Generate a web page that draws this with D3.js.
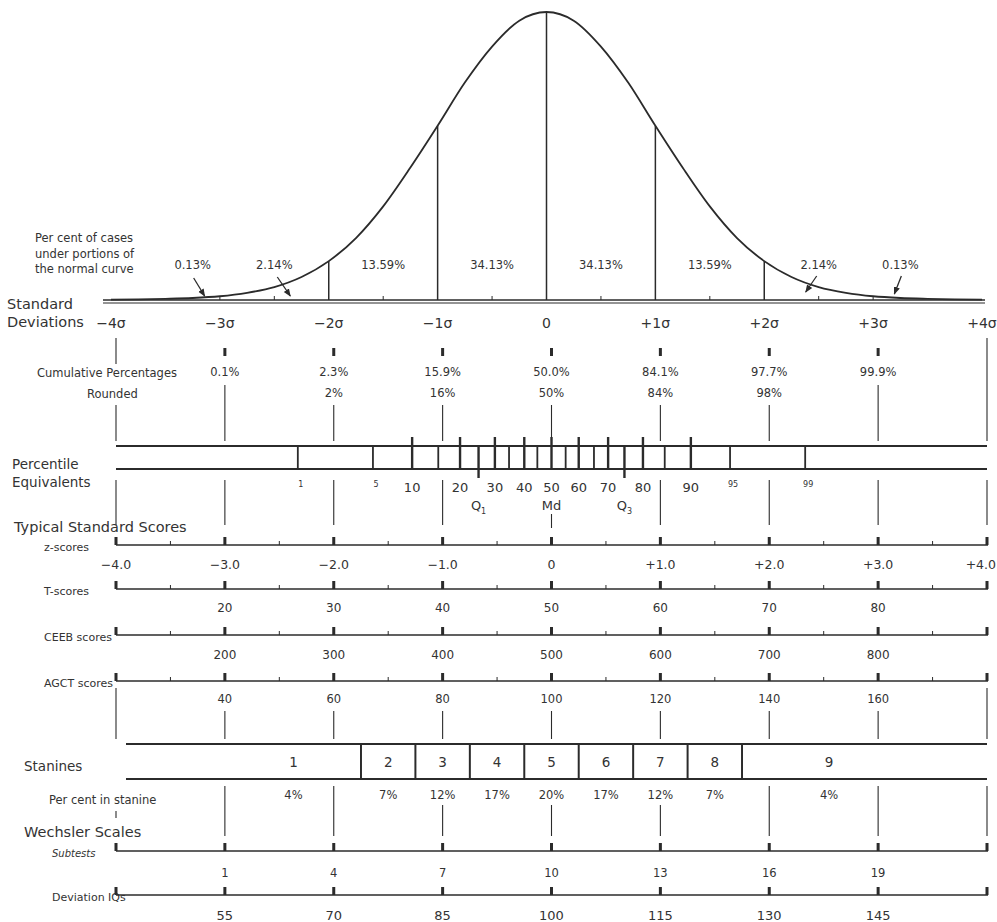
<!DOCTYPE html>
<html>
<head>
<meta charset="utf-8">
<script src="https://cdn.jsdelivr.net/npm/d3@7"></script>
<style>
  body { margin: 0; background: #fff; }
  svg text { font-family: "DejaVu Sans", sans-serif; fill: #333; }
</style>
</head>
<body>
<svg id="chart" width="997" height="922"></svg>
<script>
// ---- values ----
const sigmaTicks = [-4, -3, -2, -1, 0, 1, 2, 3, 4];
const sigmaLabels = ["−4σ", "−3σ", "−2σ", "−1σ", "0", "+1σ", "+2σ", "+3σ", "+4σ"];

// curve height as a share of the peak, every quarter sigma from -4 to +4
const curveZ = [-4, -3.75, -3.5, -3.25, -3, -2.75, -2.5, -2.25, -2, -1.75, -1.5, -1.25, -1, -0.75, -0.5, -0.25,
  0, 0.25, 0.5, 0.75, 1, 1.25, 1.5, 1.75, 2, 2.25, 2.5, 2.75, 3, 3.25, 3.5, 3.75, 4];
const curveHeight = [0.001, 0.002, 0.004, 0.007, 0.013, 0.025, 0.045, 0.08, 0.135, 0.215, 0.325, 0.46, 0.605, 0.755, 0.88, 0.97,
  1, 0.97, 0.88, 0.755, 0.605, 0.46, 0.325, 0.215, 0.135, 0.08, 0.045, 0.025, 0.013, 0.007, 0.004, 0.002, 0.001];

const areaZ = [-3.25, -2.5, -1.5, -0.5, 0.5, 1.5, 2.5, 3.25];
const areaPct = ["0.13%", "2.14%", "13.59%", "34.13%", "34.13%", "13.59%", "2.14%", "0.13%"];

const cumZ = [-3, -2, -1, 0, 1, 2, 3];
const cumPct = ["0.1%", "2.3%", "15.9%", "50.0%", "84.1%", "97.7%", "99.9%"];
const cumRounded = ["", "2%", "16%", "50%", "84%", "98%", ""];

const percentiles = [1, 5, 10, 15, 20, 25, 30, 35, 40, 45, 50, 55, 60, 65, 70, 75, 80, 85, 90, 95, 99];
const percentileZ = [-2.33, -1.64, -1.28, -1.04, -0.84, -0.67, -0.52, -0.39, -0.25, -0.13, 0,
  0.13, 0.25, 0.39, 0.52, 0.67, 0.84, 1.04, 1.28, 1.64, 2.33];
const percentileTall = [10, 20, 30, 40, 50, 60, 70, 80, 90];
const percentileLabels = [1, 5, 10, 20, 30, 40, 50, 60, 70, 80, 90, 95, 99];
const percentileSmall = [1, 5, 95, 99];
const quartileNames = ["Q", "Md", "Q"];
const quartileSubs = ["1", "", "3"];
const quartileZ = [-0.67, 0, 0.67];

const zScores = ["−4.0", "−3.0", "−2.0", "−1.0", "0", "+1.0", "+2.0", "+3.0", "+4.0"];
const tScores = ["", "20", "30", "40", "50", "60", "70", "80", ""];
const ceebScores = ["", "200", "300", "400", "500", "600", "700", "800", ""];
const agctScores = ["", "40", "60", "80", "100", "120", "140", "160", ""];
const halfTicks = [-3.5, -2.5, -1.5, -0.5, 0.5, 1.5, 2.5, 3.5];

const stanineBounds = [-1.75, -1.25, -0.75, -0.25, 0.25, 0.75, 1.25, 1.75];
const stanines = ["1", "2", "3", "4", "5", "6", "7", "8", "9"];
const stanineZ = [-2.37, -1.5, -1, -0.5, 0, 0.5, 1, 1.5, 2.55];
const stanineShare = ["4%", "7%", "12%", "17%", "20%", "17%", "12%", "7%", "4%"];

const subtests = ["", "1", "4", "7", "10", "13", "16", "19", ""];
const deviationIQs = ["", "55", "70", "85", "100", "115", "130", "145", ""];

// ---- drawing ----
const ink = "#2b2b2b";
const svg = d3.select("#chart");
const x = d3.scaleLinear().domain([-4, 4]).range([116, 987]);

// the scanned page sits a few pixels left in the curve section
const curveG = svg.append("g").attr("transform", "translate(-5,0)");
const baseY = 300;
const y = d3.scaleLinear().domain([0, 1]).range([baseY, 12]);

svg.append("defs").append("marker")
  .attr("id", "arrow").attr("viewBox", "0 0 10 10")
  .attr("refX", 9).attr("refY", 5)
  .attr("markerWidth", 6).attr("markerHeight", 6)
  .attr("orient", "auto")
  .append("path").attr("d", "M0,1 L10,5 L0,9 Z").attr("fill", ink);

// double base line
curveG.append("line").attr("x1", x(-4) - 8).attr("x2", x(4) + 3).attr("y1", baseY).attr("y2", baseY)
  .attr("stroke", ink).attr("stroke-width", 1.6);
curveG.append("line").attr("x1", x(-4) - 8).attr("x2", x(4) + 3).attr("y1", baseY + 3).attr("y2", baseY + 3)
  .attr("stroke", ink).attr("stroke-width", 1.2);

const curve = curveZ.map((z, i) => [z, curveHeight[i]]);
curveG.append("path")
  .datum(curve)
  .attr("fill", "none")
  .attr("stroke", ink)
  .attr("stroke-width", 1.8)
  .attr("d", d3.line().x(d => x(d[0])).y(d => y(d[1])).curve(d3.curveMonotoneX));

// verticals under the curve
curveG.selectAll(".sd-line")
  .data([-2, -1, 0, 1, 2])
  .join("line")
  .attr("x1", d => x(d)).attr("x2", d => x(d))
  .attr("y1", baseY)
  .attr("y2", d => y(curveHeight[curveZ.indexOf(d)]))
  .attr("stroke", ink).attr("stroke-width", 1.5);

// small ticks on the base line
curveG.selectAll(".base-tick")
  .data([-3, -2.5, -1.5, -0.5, 0.5, 1.5, 2.5, 3])
  .join("line")
  .attr("x1", d => x(d)).attr("x2", d => x(d))
  .attr("y1", baseY).attr("y2", baseY - 4)
  .attr("stroke", ink).attr("stroke-width", 1);

curveG.selectAll(".area-pct")
  .data(areaPct)
  .join("text")
  .attr("x", (d, i) => x(areaZ[i]))
  .attr("y", 269)
  .attr("text-anchor", "middle")
  .attr("font-size", 11.5)
  .text(d => d);

// arrows from tail labels to tail areas
const arrows = [
  [x(-3.25) + 1, 278, x(-3.25) + 12, 296],
  [x(-2.5) + 3, 277, x(-2.5) + 16, 296],
  [x(2.5) - 2, 276, x(2.5) - 13, 292],
  [x(3.25) + 1, 276, x(3.25) - 6, 294]
];
curveG.selectAll(".arrow")
  .data(arrows)
  .join("line")
  .attr("x1", d => d[0]).attr("y1", d => d[1])
  .attr("x2", d => d[2]).attr("y2", d => d[3])
  .attr("stroke", ink).attr("stroke-width", 1.3)
  .attr("marker-end", "url(#arrow)");

svg.selectAll(".intro")
  .data(["Per cent of cases", "under portions of", "the normal curve"])
  .join("text")
  .attr("x", 35).attr("y", (d, i) => 242 + i * 15.5)
  .attr("font-size", 11.5)
  .text(d => d);

curveG.selectAll(".sigma-label")
  .data(sigmaLabels)
  .join("text")
  .attr("x", (d, i) => x(sigmaTicks[i]))
  .attr("y", 328)
  .attr("text-anchor", "middle")
  .attr("font-size", 14)
  .text(d => d);

function rowTitle(lines, x0, y0, size, gap, italic) {
  svg.append("g").selectAll("text")
    .data(lines)
    .join("text")
    .attr("x", x0).attr("y", (d, i) => y0 + i * gap)
    .attr("font-size", size)
    .attr("font-style", italic ? "italic" : null)
    .text(d => d);
}
rowTitle(["Standard", "Deviations"], 7, 309, 14.5, 18);

function connectors(list) {
  svg.append("g").selectAll("line")
    .data(list)
    .join("line")
    .attr("x1", d => x(d[0])).attr("x2", d => x(d[0]))
    .attr("y1", d => d[1]).attr("y2", d => d[2])
    .attr("stroke", ink).attr("stroke-width", 1.1);
}

// ---- cumulative percentages ----
svg.selectAll(".cum-tick")
  .data(cumZ)
  .join("rect")
  .attr("x", d => x(d) - 1.5).attr("y", 348)
  .attr("width", 3).attr("height", 8)
  .attr("fill", ink);
svg.selectAll(".cum-label")
  .data(cumPct)
  .join("text")
  .attr("x", (d, i) => x(cumZ[i]))
  .attr("y", 376)
  .attr("text-anchor", "middle")
  .attr("font-size", 11.5)
  .text(d => d);
svg.selectAll(".cum-round")
  .data(cumRounded)
  .join("text")
  .attr("x", (d, i) => x(cumZ[i]))
  .attr("y", 397)
  .attr("text-anchor", "middle")
  .attr("font-size", 11.5)
  .text(d => d);

// the -4 connector is broken by the row title
connectors([[-4, 338, 364], [-4, 405, 441], [4, 338, 441]].concat(
  cumZ.map((z, i) => [z, cumRounded[i] ? 405 : 385, 441])));
rowTitle(["Cumulative Percentages"], 37, 377, 11.5, 0);
rowTitle(["Rounded"], 87, 398, 11.5, 0);

// ---- percentile equivalents ----
rowTitle(["Percentile", "Equivalents"], 12, 469, 13.5, 18);
const pTop = 446, pBot = 469;
[pTop, pBot].forEach(yy => {
  svg.append("line").attr("x1", x(-4)).attr("x2", x(4)).attr("y1", yy).attr("y2", yy)
    .attr("stroke", ink).attr("stroke-width", 1.8);
});
svg.selectAll(".p-div")
  .data(percentiles)
  .join("line")
  .attr("x1", (d, i) => x(percentileZ[i])).attr("x2", (d, i) => x(percentileZ[i]))
  .attr("y1", d => percentileTall.includes(d) ? pTop - 9 : pTop)
  .attr("y2", d => (d === 25 || d === 75) ? pBot + 9 : pBot)
  .attr("stroke", ink)
  .attr("stroke-width", d => percentileTall.includes(d) || d === 25 || d === 75 ? 2.4 : 1.8);
svg.selectAll(".p-label")
  .data(percentileLabels)
  .join("text")
  .attr("x", d => x(percentileZ[percentiles.indexOf(d)]) + (percentileSmall.includes(d) ? 3 : 0))
  .attr("y", d => percentileSmall.includes(d) ? 487 : 492)
  .attr("text-anchor", "middle")
  .attr("font-size", d => percentileSmall.includes(d) ? 8 : 13)
  .text(d => d);
const q = svg.selectAll(".q-label")
  .data(quartileNames)
  .join("text")
  .attr("x", (d, i) => x(quartileZ[i]))
  .attr("y", 510)
  .attr("text-anchor", "middle")
  .attr("font-size", 13);
q.append("tspan").text(d => d);
q.append("tspan").attr("font-size", 8).attr("dy", 4).text((d, i) => quartileSubs[i]);

connectors(sigmaTicks.map(z => [z, z === 0 ? 514 : 480, z === 0 ? 528 : 525]));

// ---- typical standard scores ----
rowTitle(["Typical Standard Scores"], 14, 532, 14.5, 0);

function scoreRow(title, axisY, labels, opts) {
  const g = svg.append("g");
  g.append("text").attr("x", opts.titleX).attr("y", axisY + 6)
    .attr("font-size", opts.titleSize || 11)
    .attr("font-style", opts.italic ? "italic" : null)
    .text(title);
  g.append("line").attr("x1", x(-4)).attr("x2", x(4) + 1).attr("y1", axisY).attr("y2", axisY)
    .attr("stroke", ink).attr("stroke-width", 1.5);
  g.selectAll(".major")
    .data(sigmaTicks)
    .join("rect")
    .attr("x", d => x(d) - 1.5).attr("y", axisY - 8)
    .attr("width", 3).attr("height", 8)
    .attr("fill", ink);
  if (opts.half) {
    g.selectAll(".minor")
      .data(halfTicks)
      .join("line")
      .attr("x1", d => x(d)).attr("x2", d => x(d))
      .attr("y1", axisY).attr("y2", axisY - 4)
      .attr("stroke", ink).attr("stroke-width", 1);
  }
  g.selectAll(".lab")
    .data(labels)
    .join("text")
    .attr("x", (d, i) => i === labels.length - 1 ? x(sigmaTicks[i]) + 9 : x(sigmaTicks[i]))
    .attr("y", axisY + opts.labelGap)
    .attr("text-anchor", (d, i) => i === labels.length - 1 ? "end" : "middle")
    .attr("font-size", opts.labelSize)
    .text(d => d);
}
scoreRow("z-scores", 545, zScores, { titleX: 44, half: true, labelGap: 24, labelSize: 12.5 });
scoreRow("T-scores", 589, tScores, { titleX: 44, half: true, labelGap: 23, labelSize: 12 });
scoreRow("CEEB scores", 635, ceebScores, { titleX: 44, half: true, labelGap: 24, labelSize: 12 });
scoreRow("AGCT scores", 681, agctScores, { titleX: 44, half: true, labelGap: 22, labelSize: 11.5 });

connectors(sigmaTicks.map(z => [z, z === -4 || z === 4 ? 688 : 711, 739]));

// ---- stanines ----
rowTitle(["Stanines"], 24, 771, 13.5, 0);
const sTop = 744, sBot = 779;
svg.append("line").attr("x1", x(-4) + 10).attr("x2", x(4)).attr("y1", sTop).attr("y2", sTop)
  .attr("stroke", ink).attr("stroke-width", 1.8);
svg.append("line").attr("x1", x(-4) + 10).attr("x2", x(4)).attr("y1", sBot).attr("y2", sBot)
  .attr("stroke", ink).attr("stroke-width", 1.8);
svg.selectAll(".s-div")
  .data(stanineBounds)
  .join("line")
  .attr("x1", d => x(d)).attr("x2", d => x(d))
  .attr("y1", sTop).attr("y2", sBot)
  .attr("stroke", ink).attr("stroke-width", 2);
svg.selectAll(".s-num")
  .data(stanines)
  .join("text")
  .attr("x", (d, i) => x(stanineZ[i]))
  .attr("y", 767)
  .attr("text-anchor", "middle")
  .attr("font-size", 13.5)
  .text(d => d);
svg.selectAll(".s-share")
  .data(stanineShare)
  .join("text")
  .attr("x", (d, i) => x(stanineZ[i]))
  .attr("y", 799)
  .attr("text-anchor", "middle")
  .attr("font-size", 11.5)
  .text(d => d);
rowTitle(["Per cent in stanine"], 49, 804, 11.5, 0);

connectors(sigmaTicks.map(z => {
  if (z === -4) return [z, 811, 818];
  const near = stanineZ.some(s => Math.abs(x(s) - x(z)) < 20);
  return [z, near ? 805 : 786, 836];
}));

// ---- wechsler scales ----
rowTitle(["Wechsler Scales"], 24, 837, 14.5, 0);
scoreRow("Subtests", 851, subtests, { titleX: 52, italic: true, titleSize: 10, half: false, labelGap: 26, labelSize: 11.5 });
scoreRow("Deviation IQs", 895, deviationIQs, { titleX: 52, half: false, labelGap: 25, labelSize: 13 });
</script>
</body>
</html>
